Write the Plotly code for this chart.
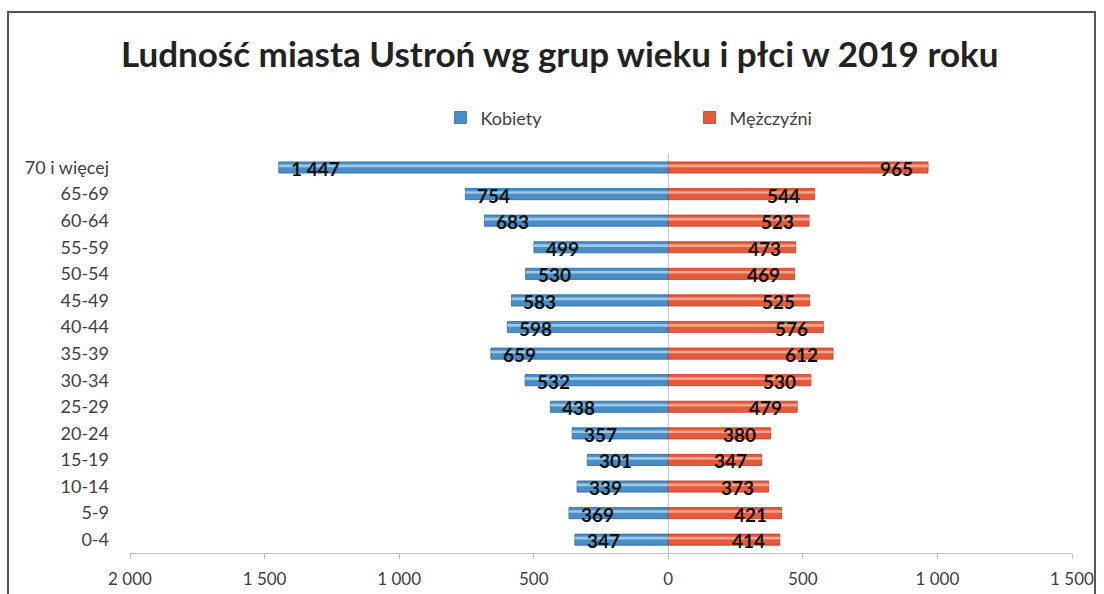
import plotly.graph_objects as go

categories = ["70 i więcej", "65-69", "60-64", "55-59", "50-54", "45-49", "40-44",
              "35-39", "30-34", "25-29", "20-24", "15-19", "10-14", "5-9", "0-4"]
kobiety = [1447, 754, 683, 499, 530, 583, 598, 659, 532, 438, 357, 301, 339, 369, 347]
mezczyzni = [965, 544, 523, 473, 469, 525, 576, 612, 530, 479, 380, 347, 373, 421, 414]
tick_vals = [-2000, -1500, -1000, -500, 0, 500, 1000, 1500]
tick_text = ["2 000", "1 500", "1 000", "500", "0", "500", "1 000", "1 500"]

def fmt(v):
    return f"{v:,}".replace(",", " ")

FONT = "Lato"
BLUE = "#4a8cc4"
BLUE_HI = "#9cc9ea"
RED = "#e55a3a"
RED_HI = "#f7a38a"

fig = go.Figure()
# main bars
fig.add_trace(go.Bar(
    y=categories, x=[-v for v in kobiety], orientation="h", name="Kobiety",
    marker=dict(color=BLUE, line=dict(color="#2f6a9a", width=0.8)),
    width=0.42, offset=-0.21, hoverinfo="skip",
))
fig.add_trace(go.Bar(
    y=categories, x=mezczyzni, orientation="h", name="Mężczyźni",
    marker=dict(color=RED, line=dict(color="#b8402a", width=0.8)),
    width=0.42, offset=-0.21, hoverinfo="skip",
))
# cylinder highlight bands
fig.add_trace(go.Bar(
    y=categories, x=[-v for v in kobiety], orientation="h", showlegend=False,
    marker=dict(color=BLUE_HI, line=dict(width=0)),
    width=0.1, offset=-0.11, hoverinfo="skip",
))
fig.add_trace(go.Bar(
    y=categories, x=mezczyzni, orientation="h", showlegend=False,
    marker=dict(color=RED_HI, line=dict(width=0)),
    width=0.1, offset=-0.11, hoverinfo="skip",
))

annotations = []
for c, v in zip(categories, kobiety):
    annotations.append(dict(x=-v, y=c, xref="x", yref="y", text=fmt(v), showarrow=False,
                            xanchor="left", yanchor="middle", xshift=10, yshift=-1,
                            font=dict(family=FONT, size=19, color="#111111", weight="bold")))
for c, v in zip(categories, mezczyzni):
    annotations.append(dict(x=v, y=c, xref="x", yref="y", text=fmt(v), showarrow=False,
                            xanchor="right", yanchor="middle", xshift=-13, yshift=-1,
                            font=dict(family=FONT, size=19, color="#111111", weight="bold")))

fig.update_layout(
    width=1104, height=594,
    margin=dict(l=130, r=32, t=153, b=41, autoexpand=False),
    paper_bgcolor="white", plot_bgcolor="white",
    barmode="overlay",
    title=dict(text="Ludność miasta Ustroń wg grup wieku i płci w 2019 roku",
               x=0.507, xanchor="center", y=0.908, yanchor="middle",
               font=dict(family=FONT, size=35, color="#222222", weight="bold")),
    font=dict(family=FONT, size=16, color="#404040"),
    legend=dict(orientation="h", x=0.3296, xanchor="left", y=1.088, yanchor="middle",
                entrywidth=204, entrywidthmode="pixels", itemwidth=30,
                font=dict(family=FONT, size=18, color="#404040")),
    showlegend=True,
    annotations=annotations,
    xaxis=dict(range=[-2000, 1500], tickvals=tick_vals, ticktext=tick_text,
               automargin=False,
               showgrid=False, zeroline=True, zerolinecolor="#c8c8c8", zerolinewidth=1,
               showline=True, linecolor="#bfbfbf", linewidth=1,
               ticks="outside", ticklen=5, tickcolor="#bfbfbf",
               ticklabelstandoff=6,
               tickfont=dict(family=FONT, size=17, color="#404040")),
    yaxis=dict(autorange="reversed", showgrid=False, showline=False, ticks="",
               automargin=False,
               ticklabelstandoff=20,
               tickfont=dict(family=FONT, size=18, color="#404040")),
    shapes=[dict(type="rect", xref="paper", yref="paper",
                 x0=-0.1295, x1=1.0244, y0=-0.2, y1=1.3525,
                 line=dict(color="#555555", width=2), layer="below")],
)

fig.write_html("out.html", config={"displayModeBar": False},
               post_script="document.body.style.margin='0';")
